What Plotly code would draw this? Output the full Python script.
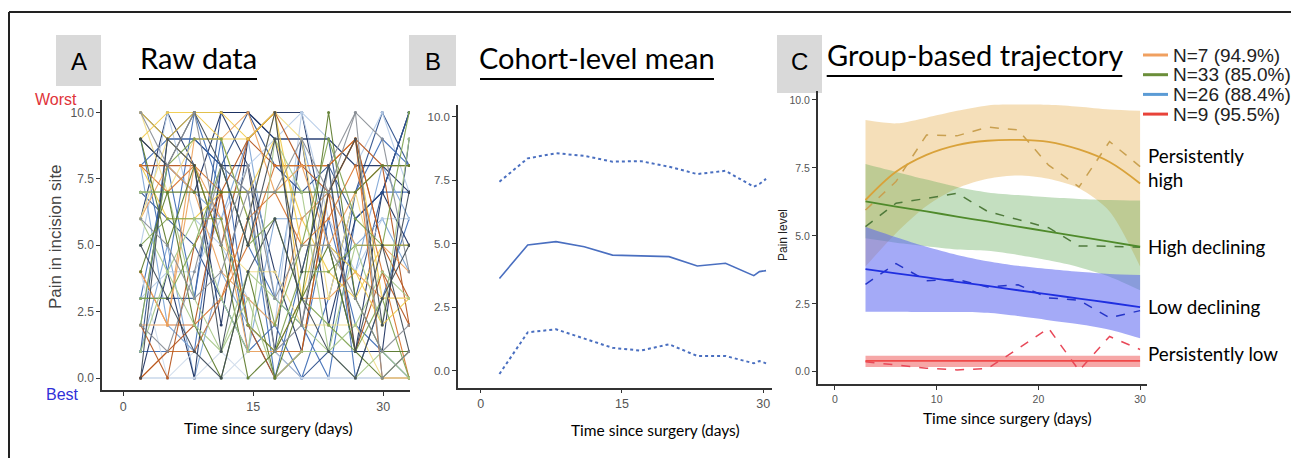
import plotly.graph_objects as go

W, H = 1291, 458

# ---------------- Panel A: raw data (pain score per patient per visit) ----------------
days_a = [2, 5.1, 8.2, 11.3, 14.4, 17.5, 20.6, 23.7, 26.8, 29.9, 33.0]

raw_blues = [
    ("#1B2F5E", [9, 8, 7, 10, 8, 4, 1, 1, 1, 7, 10]),
    ("#2C4F8C", [3, 3, 3, 10, 10, 9, 9, 9, 3, 7, 10]),
    ("#3D6CB5", [8, 9, 9, 8, 5, 3, 2, 0, 6, 7, 7]),
    ("#7FA6D6", [1, 5, 0, 4, 2, 1, 1, 1, 1, 1, 1]),
    ("#B7CDE8", [0, 0, 0, 0, 0, 0, 0, 0, 0, 0, 0]),
    ("#1B2F5E", [6, 10, 8, 2, 9, 10, 10, 5, 1, 1, 9]),
    ("#3D6CB5", [3, 8, 3, 9, 2, 0, 4, 8, 0, 3, 6]),
    ("#2C4F8C", [7, 6, 5, 3, 1, 1, 0, 1, 7, 10, 8]),
    ("#7FA6D6", [2, 8, 7, 6, 9, 3, 9, 5, 4, 8, 6]),
    ("#B7CDE8", [5, 10, 6, 5, 3, 2, 10, 9, 8, 10, 7]),
    ("#3D6CB5", [1, 1, 1, 8, 7, 0, 1, 6, 2, 1, 0]),
    ("#1B2F5E", [0, 4, 0, 8, 8, 1, 9, 2, 6, 7, 5]),
    ("#D0DCEC", [4, 0, 0, 1, 0, 0, 0, 0, 0, 0, 0]),
    ("#2C4F8C", [1, 9, 9, 8, 10, 8, 7, 8, 6, 7, 10]),
    ("#7FA6D6", [8, 2, 1, 3, 1, 6, 6, 7, 5, 6, 4]),
    ("#B7CDE8", [3, 4, 4, 6, 8, 9, 10, 6, 4, 6, 6]),
    ("#3D6CB5", [9, 4, 10, 7, 1, 2, 0, 3, 7, 9, 8]),
    ("#1B2F5E", [10, 9, 10, 10, 10, 9, 9, 9, 8, 8, 7]),
    ("#D0DCEC", [0, 0, 1, 0, 1, 1, 0, 0, 0, 0, 1]),
]
raw_oranges = [
    ("#B5541C", [8, 8, 8, 5, 9, 8, 8, 8, 9, 8, 2]),
    ("#D9752E", [4, 2, 2, 3, 5, 8, 8, 8, 9, 5, 5]),
    ("#F1CB4A", [10, 9, 10, 10, 9, 10, 3, 7, 9, 3, 3]),
    ("#EDA25C", [2, 2, 8, 6, 1, 1, 3, 3, 4, 3, 3]),
    ("#D9752E", [0, 1, 1, 3, 6, 7, 5, 6, 8, 4, 0]),
    ("#F3DE8A", [10, 7, 9, 9, 6, 10, 9, 3, 7, 3, 3]),
    ("#B5541C", [0, 1, 2, 7, 9, 10, 8, 7, 9, 5, 3]),
    ("#F1CB4A", [8, 6, 6, 7, 7, 9, 6, 4, 3, 5, 5]),
    ("#EDA25C", [6, 8, 7, 4, 3, 2, 6, 7, 5, 5, 4]),
    ("#D9752E", [8, 7, 8, 7, 2, 1, 1, 7, 9, 0, 0]),
    ("#F3DE8A", [6, 9, 8, 5, 4, 4, 2, 2, 2, 0, 0]),
    ("#B5541C", [2, 0, 5, 7, 2, 0, 1, 7, 1, 4, 2]),
    ("#EDA25C", [4, 2, 9, 9, 10, 7, 8, 5, 7, 8, 8]),
    ("#F1CB4A", [9, 10, 10, 9, 9, 10, 5, 5, 4, 2, 3]),
]
raw_greens = [
    ("#5C7A2A", [7, 7, 7, 7, 7, 7, 7, 7, 7, 8, 8]),
    ("#7FA350", [5, 6, 6, 6, 2, 1, 4, 4, 5, 5, 5]),
    ("#A9C98A", [7, 7, 3, 1, 3, 0, 1, 1, 5, 2, 9]),
    ("#5C7A2A", [9, 5, 8, 5, 0, 1, 3, 5, 1, 0, 1]),
    ("#7FA350", [3, 3, 5, 8, 5, 6, 3, 2, 1, 3, 0]),
    ("#A9C98A", [6, 4, 6, 3, 1, 9, 7, 1, 2, 4, 3]),
    ("#5C7A2A", [4, 7, 2, 0, 4, 0, 3, 10, 3, 1, 1]),
    ("#7FA350", [2, 8, 9, 9, 6, 2, 5, 9, 6, 5, 10]),
    ("#A9C98A", [1, 4, 2, 1, 4, 3, 2, 1, 0, 1, 0]),
]
raw_greys = [
    ("#3F4A55", [0, 9, 8, 1, 6, 10, 2, 7, 9, 2, 7]),
    ("#8A8F96", [2, 1, 4, 8, 7, 1, 2, 8, 10, 9, 4]),
    ("#3F4A55", [9, 8, 10, 8, 5, 9, 4, 8, 1, 5, 1]),
    ("#8A8F96", [6, 5, 3, 4, 7, 7, 9, 7, 10, 0, 1]),
    ("#3F4A55", [5, 3, 1, 0, 4, 6, 3, 1, 0, 3, 5]),
    ("#8A8F96", [10, 8, 10, 5, 8, 3, 5, 5, 3, 1, 2]),
]

# ---------------- Panel B: cohort-level mean +/- SD ----------------
days_b = [2, 5, 8, 11, 14, 17, 20, 23, 26, 29, 29.6, 30.3]
mean_b = [3.63, 4.95, 5.08, 4.88, 4.55, 4.53, 4.49, 4.12, 4.23, 3.74, 3.9, 3.94]
upper_b = [7.44, 8.36, 8.56, 8.46, 8.23, 8.25, 8.03, 7.74, 7.87, 7.24, 7.35, 7.55]
lower_b = [-0.13, 1.51, 1.63, 1.27, 0.9, 0.79, 1.04, 0.58, 0.58, 0.29, 0.38, 0.29]

# ---------------- Panel C: group-based trajectories ----------------
days_c = [3, 6, 9, 12, 15, 18, 21, 24, 27, 30]
groups = ["N=7 (94.9%)", "N=33 (85.0%)", "N=26 (88.4%)", "N=9 (95.5%)"]
group_labels = ["Persistently<br>high", "High declining", "Low declining", "Persistently low"]

high_fit = [6.32, 7.36, 7.98, 8.34, 8.5, 8.53, 8.46, 8.18, 7.72, 6.93]
high_obs = [5.95, 7.0, 8.71, 8.68, 9.0, 8.9, 7.6, 6.8, 8.47, 7.55]
high_up = [9.26, 9.14, 9.35, 9.6, 9.8, 9.83, 9.82, 9.75, 9.65, 9.6]
high_lo = [3.87, 5.1, 6.1, 6.75, 7.1, 7.22, 7.1, 6.75, 5.9, 3.87]

hdec_fit = [6.27, 6.08, 5.9, 5.71, 5.53, 5.34, 5.16, 4.97, 4.79, 4.6]
hdec_obs = [5.34, 6.2, 6.38, 6.57, 5.9, 5.6, 5.3, 4.63, 4.62, 4.58]
hdec_up = [7.64, 7.35, 7.07, 6.8, 6.6, 6.5, 6.42, 6.36, 6.32, 6.3]
hdec_lo = [4.91, 4.75, 4.62, 4.5, 4.45, 4.3, 4.1, 3.85, 3.5, 3.0]

ldec_fit = [3.78, 3.62, 3.47, 3.31, 3.16, 3.0, 2.85, 2.69, 2.54, 2.38]
ldec_obs = [3.22, 3.98, 3.35, 3.4, 3.12, 3.2, 2.72, 2.63, 1.99, 2.25]
ldec_up = [5.34, 4.95, 4.6, 4.3, 4.07, 3.9, 3.78, 3.68, 3.6, 3.56]
ldec_lo = [2.21, 2.21, 2.2, 2.2, 2.17, 2.05, 1.9, 1.75, 1.55, 1.23]

low_fit = [0.4, 0.4, 0.4, 0.4, 0.4, 0.4, 0.4, 0.4, 0.4, 0.4]
low_obs = [0.37, 0.25, 0.13, 0.07, 0.12, 0.85, 1.6, 0.05, 1.3, 0.82]
low_up = [0.59, 0.59, 0.59, 0.59, 0.59, 0.59, 0.59, 0.59, 0.59, 0.59]
low_lo = [0.18, 0.18, 0.18, 0.18, 0.18, 0.18, 0.18, 0.18, 0.18, 0.18]


def px(x):
    return x / W


def py(y):
    return 1 - y / H


fig = go.Figure()

# Panel A traces
for color, vals in raw_blues + raw_oranges + raw_greens + raw_greys:
    fig.add_trace(go.Scatter(
        x=days_a, y=vals, mode="lines+markers", xaxis="x", yaxis="y",
        line=dict(color=color, width=1.1), marker=dict(color=color, size=3),
        opacity=0.92, showlegend=False, hoverinfo="skip"))

# Panel B traces
bcol = "#4A6FC0"
fig.add_trace(go.Scatter(x=days_b, y=upper_b, mode="lines", xaxis="x2", yaxis="y2",
                         line=dict(color=bcol, width=2, dash="dot"), showlegend=False))
fig.add_trace(go.Scatter(x=days_b, y=mean_b, mode="lines", xaxis="x2", yaxis="y2",
                         line=dict(color=bcol, width=1.6), showlegend=False))
fig.add_trace(go.Scatter(x=days_b, y=lower_b, mode="lines", xaxis="x2", yaxis="y2",
                         line=dict(color=bcol, width=2, dash="dot"), showlegend=False))

# Panel C bands (upper edge, then lower edge filled to it)
bands = [
    (high_up, high_lo, "rgba(232,185,100,0.45)"),
    (hdec_up, hdec_lo, "rgba(100,170,90,0.38)"),
    (ldec_up, ldec_lo, "rgba(90,100,240,0.55)"),
    (low_up, low_lo, "rgba(235,60,60,0.45)"),
]
for up, lo, fc in bands:
    fig.add_trace(go.Scatter(
        x=days_c, y=up, mode="lines", xaxis="x3", yaxis="y3",
        line=dict(width=0, shape="spline", smoothing=0.8),
        showlegend=False, hoverinfo="skip"))
    fig.add_trace(go.Scatter(
        x=days_c, y=lo, mode="lines", xaxis="x3", yaxis="y3",
        fill="tonexty", fillcolor=fc, line=dict(width=0, shape="spline", smoothing=0.8),
        showlegend=False, hoverinfo="skip"))

lines_c = [
    (high_fit, high_obs, "#D9A23A", "#C9A050"),
    (hdec_fit, hdec_obs, "#4F8A2B", "#4F7A3B"),
    (ldec_fit, ldec_obs, "#1F2FE0", "#2535C8"),
    (low_fit, low_obs, "#F04848", "#E84858"),
]
for fit, obs, c_fit, c_obs in lines_c:
    fig.add_trace(go.Scatter(x=days_c, y=obs, mode="lines", xaxis="x3", yaxis="y3",
                             line=dict(color=c_obs, width=1.5, dash="dash"),
                             showlegend=False))
    fig.add_trace(go.Scatter(x=days_c, y=fit, mode="lines", xaxis="x3", yaxis="y3",
                             line=dict(color=c_fit, width=1.8, shape="spline"),
                             showlegend=False))

axis_common = dict(showgrid=False, zeroline=False, showline=True, linecolor="#333333",
                   linewidth=1.5, ticks="outside", ticklen=4, tickcolor="#333333",
                   tickwidth=1.2, fixedrange=True)
tickfont = dict(family="Liberation Sans, Arial", color="#555555")

fig.update_layout(
    width=W, height=H, margin=dict(l=0, r=0, t=0, b=0),
    paper_bgcolor="white", plot_bgcolor="white", showlegend=False,
    xaxis=dict(axis_common, domain=[px(102), px(410)], range=[-2.46, 33.1],
               tickvals=[0, 15, 30], tickfont=dict(tickfont, size=12.5), anchor="y"),
    yaxis=dict(axis_common, domain=[py(390), py(100)], range=[-0.45, 10.47],
               tickvals=[0, 2.5, 5, 7.5, 10], tickformat=".1f",
               tickfont=dict(tickfont, size=12), anchor="x"),
    xaxis2=dict(axis_common, domain=[px(458), px(771.7)], range=[-2.4, 30.9],
                tickvals=[0, 15, 30], tickfont=dict(tickfont, size=12.5), anchor="y2"),
    yaxis2=dict(axis_common, domain=[py(387.7), py(105)], range=[-0.67, 10.46],
                tickvals=[0, 2.5, 5, 7.5, 10], tickformat=".1f",
                tickfont=dict(tickfont, size=11.5), anchor="x2"),
    xaxis3=dict(axis_common, domain=[px(817.7), px(1146.7)], range=[-1.7, 30.65],
                tickvals=[0, 10, 20, 30], tickfont=dict(tickfont, size=10.5), anchor="y3"),
    yaxis3=dict(axis_common, domain=[py(384.3), py(91)], range=[-0.46, 10.33],
                tickvals=[0, 2.5, 5, 7.5, 10], tickformat=".1f",
                tickfont=dict(tickfont, size=10.5), anchor="x3"),
)

shapes = []
annotations = []

# outer frame (top and left edges)
shapes.append(dict(type="line", xref="paper", yref="paper", x0=px(9), x1=1, y0=py(12), y1=py(12),
                   line=dict(color="#222222", width=2)))
shapes.append(dict(type="line", xref="paper", yref="paper", x0=px(9), x1=px(9), y0=py(12), y1=0,
                   line=dict(color="#222222", width=2)))

# panel letter boxes
for (x0, x1, y0, y1, letter) in [(56, 101, 35, 86, "A"), (409, 456, 35, 86, "B"),
                                 (777, 822, 35, 93, "C")]:
    shapes.append(dict(type="rect", xref="paper", yref="paper", x0=px(x0), x1=px(x1),
                       y0=py(y1), y1=py(y0), fillcolor="#D9D9D9", line=dict(width=0), layer="below"))
    annotations.append(dict(text=letter, xref="paper", yref="paper", x=px((x0 + x1) / 2), y=py(62),
                            xanchor="center", yanchor="middle", showarrow=False,
                            font=dict(family="Liberation Sans, Arial", size=24, color="black")))

# panel titles with underlines
title_font = dict(family="Lato, Open Sans", size=29, color="black")
for txt, x0, x1, yu in [("Raw data", 139, 257, 79), ("Cohort-level mean", 480, 714, 79),
                        ("Group-based trajectory", 826.7, 1122.3, 76)]:
    annotations.append(dict(text=txt, xref="paper", yref="paper", x=px((x0 + x1) / 2), y=py(yu - 2),
                            xanchor="center", yanchor="bottom", showarrow=False, font=title_font))
    shapes.append(dict(type="line", xref="paper", yref="paper", x0=px(x0), x1=px(x1),
                       y0=py(yu), y1=py(yu), line=dict(color="black", width=2)))

# axis titles
xt_font = dict(family="Lato, Open Sans", size=15.5, color="black")
for cx, cy in [(268, 428), (655, 430), (1007.5, 418)]:
    annotations.append(dict(text="Time since surgery (days)", xref="paper", yref="paper",
                            x=px(cx), y=py(cy), xanchor="center", yanchor="middle",
                            showarrow=False, font=xt_font))
annotations.append(dict(text="Pain in incision site", xref="paper", yref="paper", x=px(55), y=py(237),
                        textangle=-90, xanchor="center", yanchor="middle", showarrow=False,
                        font=dict(family="Liberation Sans, Arial", size=17, color="#444444")))
annotations.append(dict(text="Pain level", xref="paper", yref="paper", x=px(783), y=py(235),
                        textangle=-90, xanchor="center", yanchor="middle", showarrow=False,
                        font=dict(family="Liberation Sans, Arial", size=12, color="#222222")))
annotations.append(dict(text="Worst", xref="paper", yref="paper", x=px(56), y=py(99),
                        xanchor="center", yanchor="middle", showarrow=False,
                        font=dict(family="Liberation Sans, Arial", size=16, color="#E0343A")))
annotations.append(dict(text="Best", xref="paper", yref="paper", x=px(62), y=py(394),
                        xanchor="center", yanchor="middle", showarrow=False,
                        font=dict(family="Liberation Sans, Arial", size=16, color="#3030D8")))

# legend for panel C
leg_colors = ["#F0A060", "#6B8E3A", "#5B9BD5", "#E8433A"]
for i, (g, c) in enumerate(zip(groups, leg_colors)):
    yy = 55 + 19.7 * i
    shapes.append(dict(type="line", xref="paper", yref="paper", x0=px(1143), x1=px(1168),
                       y0=py(yy), y1=py(yy), line=dict(color=c, width=3)))
    annotations.append(dict(text=g, xref="paper", yref="paper", x=px(1171), y=py(yy),
                            xanchor="left", yanchor="middle", showarrow=False,
                            font=dict(family="Liberation Sans, Arial", size=19, color="#222222")))

# group labels
lab_font = dict(family="Lato, Open Sans", size=18.8, color="black")
for txt, ly in zip(group_labels, [167, 246, 306, 353]):
    annotations.append(dict(text=txt, xref="paper", yref="paper", x=px(1146), y=py(ly),
                            xanchor="left", yanchor="middle", align="left", showarrow=False,
                            font=lab_font))

fig.update_layout(shapes=shapes, annotations=annotations)
fig.write_html("out.html", config={"displayModeBar": False},
               post_script="document.body.style.margin='0px';")
